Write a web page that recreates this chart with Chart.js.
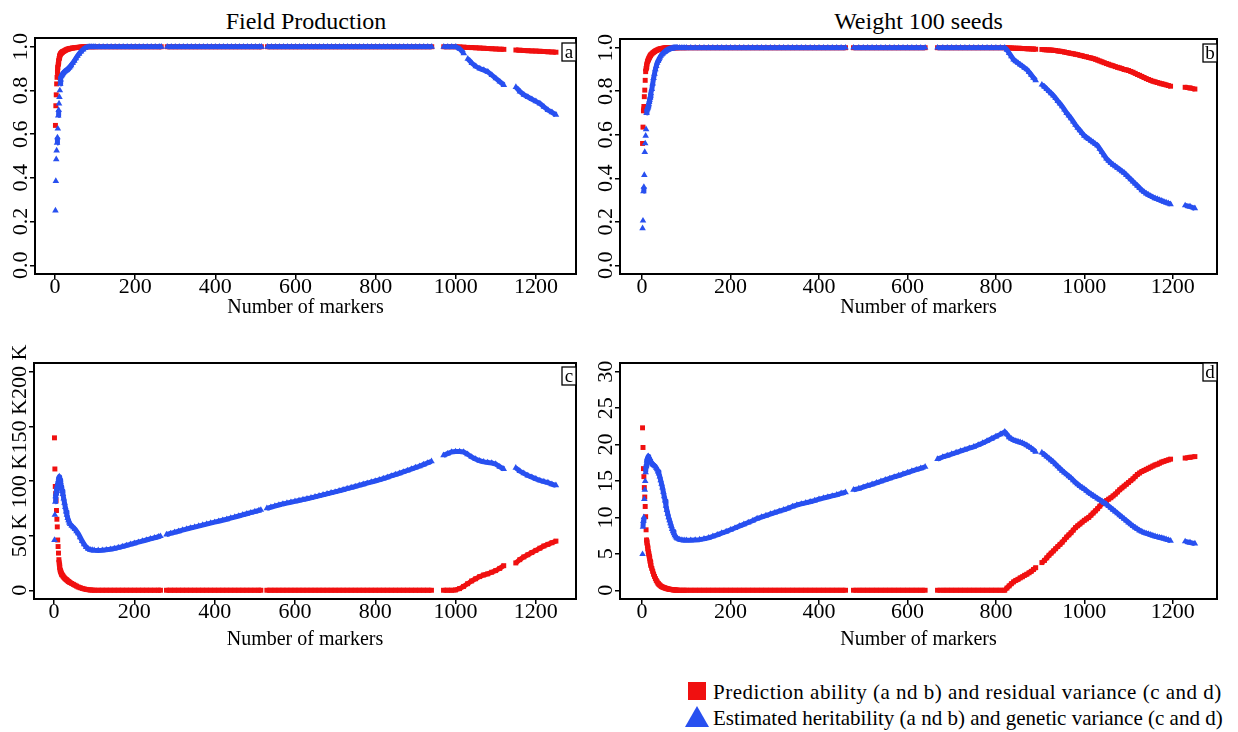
<!DOCTYPE html>
<html>
<head>
<meta charset="utf-8">
<script src="https://cdn.jsdelivr.net/npm/chart.js@4.4.1/dist/chart.umd.min.js"></script>
<style>
  html, body { margin:0; padding:0; background:#fff; }
  #wrap { position:relative; width:1238px; height:732px; overflow:hidden; background:#fff;
          font-family:"Liberation Serif","Times New Roman",serif; color:#000; }
  canvas { position:absolute; }
  .ttl { position:absolute; font-size:24px; line-height:28px; text-align:center; }
  .leg { position:absolute; font-size:21px; line-height:26px; white-space:nowrap; }
</style>
</head>
<body>
<div id="wrap">
  <div class="ttl" style="left:0;top:7px;width:612px;">Field Production</div>
  <div class="ttl" style="left:620px;top:7px;width:597px;">Weight 100 seeds</div>
  <canvas id="pa" width="580" height="330" style="left:0;top:0;"></canvas>
  <canvas id="pb" width="658" height="330" style="left:580px;top:0;"></canvas>
  <canvas id="pc" width="580" height="330" style="left:0;top:330px;"></canvas>
  <canvas id="pd" width="658" height="330" style="left:580px;top:330px;"></canvas>
  <div style="position:absolute;left:688px;top:682px;width:18px;height:18px;background:#f01010;"></div>
  <div class="leg" style="left:713px;top:679px;letter-spacing:0.5px;">Prediction ability (a nd b) and residual variance (c and d)</div>
  <svg style="position:absolute;left:684px;top:705px;" width="26" height="23"><polygon points="1,22 25,22 13,1" fill="#2850f0"/></svg>
  <div class="leg" style="left:713px;top:705px;">Estimated heritability (a nd b) and genetic variance (c and d)</div>
</div>
<script>
// ---------------- DATA ----------------
// Field Production: number of markers
const xsFP = [
  1,2,3,4,5,6,7,8,9,10,11,12,13,14,15,16,17,18,19,20,
  22,24,26,28,30,32,34,36,38,40,
  44,48,52,56,60,
  65,70,75,80,85,90,95,100,
  110,120,130,140,150,160,170,180,190,200,210,220,230,240,250,260,
  265,
  280,290,300,310,320,330,340,350,360,370,380,390,400,410,420,430,440,450,460,470,480,490,500,510,
  515,
  530,540,550,560,570,580,590,600,610,620,630,640,650,660,670,680,690,700,710,720,730,740,750,760,770,780,790,800,810,820,830,840,850,860,870,880,890,900,910,920,930,940,
  970,980,990,1000,1010,1020,1030,1040,1050,1060,1070,1080,1090,1100,1110,1120,
  1150,1160,1170,1180,1190,1200,1210,1220,1230,1240,1250
];
// (a) prediction ability, Field Production
const predFP = [
  0.64,0.73,0.78,0.83,0.86,0.885,0.905,0.92,0.935,0.945,0.955,0.96,0.965,0.968,0.97,0.972,0.974,0.975,0.977,0.978,
  0.98,0.982,0.984,0.986,0.988,0.989,0.99,0.991,0.992,0.993,
  0.994,0.995,0.996,0.997,0.998,
  0.999,1,1,1,1,1,1,1,
  1,1,1,1,1,1,1,1,1,1,1,1,1,1,1,1,
  1,
  1,1,1,1,1,1,1,1,1,1,1,1,1,1,1,1,1,1,1,1,1,1,1,1,
  1,
  1,1,1,1,1,1,1,1,1,1,1,1,1,1,1,1,1,1,1,1,1,1,1,1,1,1,1,1,1,1,1,1,1,1,1,1,1,1,1,1,1,1,
  1,1,1,1,0.999,0.998,0.997,0.996,0.995,0.994,0.993,0.992,0.991,0.99,0.989,0.988,
  0.985,0.984,0.983,0.982,0.981,0.98,0.979,0.978,0.977,0.976,0.975
];
// (a) estimated heritability, Field Production
const herFP = [
  0.25,0.385,0.485,0.525,0.56,0.585,0.625,0.685,0.71,0.74,0.77,0.80,0.83,0.85,0.865,0.868,0.871,0.874,0.877,0.88,
  0.883,0.886,0.889,0.892,0.895,0.898,0.902,0.906,0.91,0.915,
  0.925,0.935,0.947,0.958,0.968,
  0.978,0.987,0.994,0.998,1,1,1,1,
  1,1,1,1,1,1,1,1,1,1,1,1,1,1,1,1,
  1,
  1,1,1,1,1,1,1,1,1,1,1,1,1,1,1,1,1,1,1,1,1,1,1,1,
  1,
  1,1,1,1,1,1,1,1,1,1,1,1,1,1,1,1,1,1,1,1,1,1,1,1,1,1,1,1,1,1,1,1,1,1,1,1,1,1,1,1,1,1,
  1,1,1,1,0.99,0.97,0.945,0.925,0.91,0.90,0.893,0.885,0.87,0.855,0.84,0.825,
  0.815,0.795,0.78,0.77,0.76,0.75,0.74,0.725,0.71,0.70,0.688
];
// (c) residual variance, Field Production (thousands)
const residFP = [
  139.5,111,95,88.5,82,73,65,58,46,40,34,28,24,21,18.5,17.5,16.5,15.5,14.5,14,
  13,12,11.2,10.5,9.8,9.2,8.6,8,7.5,7,
  6.2,5.4,4.6,3.8,3.0,
  2.3,1.7,1.2,0.8,0.5,0.3,0.15,0.05,
  0,0,0,0,0,0,0,0,0,0,0,0,0,0,0,0,
  0,
  0,0,0,0,0,0,0,0,0,0,0,0,0,0,0,0,0,0,0,0,0,0,0,0,
  0,
  0,0,0,0,0,0,0,0,0,0,0,0,0,0,0,0,0,0,0,0,0,0,0,0,0,0,0,0,0,0,0,0,0,0,0,0,0,0,0,0,0,0,
  0,0,0,0.3,1.5,3.5,6,8.5,10.5,12.5,14,15,16.5,18,20,22.5,
  25,28,30.5,32.5,34.5,36.5,38.5,40.5,42,43.5,45
];
// (c) genetic variance, Field Production (thousands)
const genFP = [
  46,69,81,86,88.5,91,93,95,97,99,101,103,104,103,101,99,97,95,93,91,
  88,84,80,76,72,69,66,64,62,60.5,
  59,57.5,56,54,52,
  48.5,45,42,39.5,38,37,36.7,36.6,
  36.5,36.6,37,37.5,38.2,39,40,41,42,43,44,45,46,47,48,49,
  49.5,
  51,52,53,54,55,56,57,57.8,58.7,59.6,60.5,61.4,62.3,63.2,64.1,65,66,67,68,69,70,71,72,73,
  73.5,
  75,76,77,78,79,79.8,80.6,81.4,82.2,83,83.8,84.6,85.5,86.4,87.3,88.2,89.1,90,91,92,93,94,95,96,97,98,99,100,101,102.2,103.4,104.6,105.8,107,108.3,109.6,110.9,112.2,113.5,115,116.5,118,
  123.5,125,126.5,127,127,126.5,124.5,122,120,118.5,117.5,117,116.5,115.5,113,111,
  112,109,107,105,103.5,102,100.5,99.5,98.5,97,96
];

// Weight 100 seeds: number of markers
const xsW = [
  1,2,3,4,5,6,7,8,9,10,11,12,13,14,15,16,17,18,19,20,
  22,24,26,28,30,32,34,36,38,40,42,44,46,48,50,52,54,56,58,60,62,64,66,68,70,72,74,76,78,80,
  85,90,95,100,
  110,120,130,140,150,160,170,180,190,200,210,220,230,240,250,260,270,280,290,300,310,320,330,340,350,360,370,380,390,400,410,420,430,440,450,460,
  478,
  490,500,510,520,530,540,550,560,570,580,590,600,610,620,630,640,
  668,
  680,690,700,710,720,730,740,750,760,770,780,790,800,810,
  820,825,830,835,840,845,850,855,860,865,870,875,880,885,890,
  904,
  910,915,920,925,930,935,940,945,950,955,960,965,970,975,980,985,990,995,1000,1005,1010,1015,1020,1025,1030,1035,1040,1045,1050,1055,1060,1065,1070,1075,1080,1085,1090,1095,1100,1105,1110,1115,1120,1125,1130,1135,1140,1145,1150,1155,1160,1165,1170,1175,1180,1185,1190,1195,
  1228,1239,1250
];
// (b) prediction ability, Weight 100 seeds
const predW = [
  0.56,0.635,0.71,0.73,0.775,0.805,0.85,0.89,0.905,0.915,0.925,0.935,0.94,0.945,0.95,0.954,0.958,0.962,0.965,0.968,
  0.972,0.976,0.979,0.982,0.985,0.987,0.989,0.991,0.993,0.994,0.995,0.996,0.997,0.998,0.998,0.999,0.999,1,1,1,1,1,1,1,1,1,1,1,1,1,
  1,1,1,1,
  1,1,1,1,1,1,1,1,1,1,1,1,1,1,1,1,1,1,1,1,1,1,1,1,1,1,1,1,1,1,1,1,1,1,1,1,
  1,
  1,1,1,1,1,1,1,1,1,1,1,1,1,1,1,1,
  1,
  1,1,1,1,1,1,1,1,1,1,1,1,1,1,
  1,1,0.999,0.999,0.998,0.998,0.997,0.997,0.996,0.996,0.995,0.995,0.994,0.994,0.993,
  0.992,
  0.991,0.99,0.99,0.989,0.988,0.987,0.985,0.984,0.982,0.98,
  0.978,0.976,0.974,0.972,0.97,0.968,0.965,0.963,0.96,0.958,
  0.955,0.953,0.95,0.947,0.943,0.939,0.935,0.931,0.927,0.924,
  0.92,0.917,0.913,0.91,0.907,0.904,0.90,0.898,0.895,0.891,
  0.887,0.882,0.877,0.873,0.868,0.863,0.858,0.854,0.85,0.846,
  0.843,0.84,0.837,0.834,0.832,0.829,0.826,0.823,
  0.818,0.815,0.81
];
// (b) estimated heritability, Weight 100 seeds
const herW = [
  0.17,0.205,0.34,0.36,0.415,0.52,0.56,0.595,0.625,0.70,0.715,0.72,0.725,0.73,0.74,0.75,0.76,0.77,0.78,0.79,
  0.81,0.835,0.86,0.88,0.90,0.915,0.93,0.94,0.948,0.955,0.962,0.968,0.972,0.976,0.98,0.983,0.986,0.988,0.99,0.992,0.994,0.995,0.996,0.997,0.998,0.999,0.999,1,1,1,
  1,1,1,1,
  1,1,1,1,1,1,1,1,1,1,1,1,1,1,1,1,1,1,1,1,1,1,1,1,1,1,1,1,1,1,1,1,1,1,1,1,
  1,
  1,1,1,1,1,1,1,1,1,1,1,1,1,1,1,1,
  1,
  1,1,1,1,1,1,1,1,1,1,1,1,1,1,
  1,0.99,0.975,0.96,0.945,0.937,0.93,0.922,0.915,0.907,0.90,0.888,0.875,0.862,0.85,
  0.83,
  0.82,0.81,0.80,0.79,0.78,0.768,0.755,0.743,0.73,0.715,
  0.70,0.688,0.675,0.66,0.645,0.632,0.62,0.607,0.595,0.587,
  0.58,0.572,0.565,0.557,0.55,0.535,0.52,0.505,0.49,0.48,
  0.47,0.462,0.455,0.447,0.44,0.432,0.425,0.415,0.405,0.395,
  0.385,0.375,0.365,0.355,0.345,0.337,0.33,0.324,0.318,0.313,
  0.308,0.304,0.30,0.296,0.292,0.288,0.285,0.28,
  0.275,0.27,0.262
];
// (d) residual variance, Weight 100 seeds
const residW = [
  22.3,19.6,16.7,15.6,14.1,12.8,11.5,10.1,8.3,6.9,6.5,6.1,5.7,5.3,5.0,4.7,4.4,4.0,3.7,3.4,
  3.0,2.6,2.2,1.9,1.6,1.35,1.15,0.95,0.8,0.7,0.6,0.5,0.45,0.4,0.35,0.3,0.26,0.22,0.19,0.16,0.14,0.12,0.1,0.08,0.06,0.05,0.04,0.03,0.02,0.01,
  0,0,0,0,
  0,0,0,0,0,0,0,0,0,0,0,0,0,0,0,0,0,0,0,0,0,0,0,0,0,0,0,0,0,0,0,0,0,0,0,0,
  0,
  0,0,0,0,0,0,0,0,0,0,0,0,0,0,0,0,
  0,
  0,0,0,0,0,0,0,0,0,0,0,0,0,0,
  0,0.3,0.6,0.9,1.15,1.35,1.5,1.7,1.85,2.05,2.2,2.4,2.6,2.85,3.1,
  3.8,
  4.1,4.45,4.8,5.1,5.4,5.7,6.0,6.3,6.6,6.95,
  7.3,7.6,7.9,8.25,8.6,8.85,9.1,9.35,9.6,9.8,
  10.0,10.3,10.6,10.9,11.2,11.55,11.9,12.1,12.3,12.5,
  12.7,12.95,13.2,13.5,13.8,14.05,14.3,14.55,14.8,15.05,
  15.3,15.6,15.9,16.1,16.3,16.45,16.6,16.75,16.9,17.05,
  17.2,17.3,17.45,17.6,17.7,17.8,17.9,18.0,
  18.15,18.25,18.35
];
// (d) genetic variance, Weight 100 seeds
const genW = [
  4.95,8.7,9.5,10.0,12.5,13.8,15.0,16.2,17.0,17.4,17.8,18.1,18.3,18.4,18.3,18.1,17.9,17.8,17.7,17.6,
  17.5,17.3,17.2,17.1,17.0,16.8,16.6,16.3,16.0,15.6,15.1,14.6,14.1,13.5,12.9,12.3,11.6,11.0,10.5,10.0,9.6,9.2,8.8,8.4,8.1,7.8,7.55,7.35,7.2,7.1,
  6.95,6.9,6.85,6.85,
  6.85,6.9,6.95,7.05,7.2,7.4,7.6,7.85,8.05,8.3,8.55,8.8,9.05,9.3,9.55,9.85,10.05,10.25,10.45,10.65,10.85,11.05,11.25,11.5,11.7,11.85,12.0,12.15,12.3,12.5,12.65,12.8,12.95,13.1,13.3,13.45,
  13.8,
  13.95,14.15,14.35,14.55,14.75,14.95,15.15,15.35,15.55,15.75,15.95,16.15,16.35,16.55,16.75,16.95,
  18.0,
  18.3,18.5,18.7,18.9,19.1,19.3,19.5,19.7,19.95,20.2,20.5,20.8,21.1,21.4,
  21.75,21.4,21.0,20.8,20.6,20.5,20.4,20.3,20.2,20.05,19.9,19.7,19.5,19.25,19.0,
  18.9,
  18.6,18.35,18.1,17.85,17.6,17.3,17.0,16.7,16.4,16.15,
  15.9,15.65,15.4,15.1,14.8,14.55,14.3,14.1,13.9,13.65,
  13.4,13.2,13.0,12.8,12.6,12.4,12.2,12.0,11.8,11.55,
  11.3,11.05,10.8,10.55,10.3,10.05,9.8,9.55,9.3,9.05,
  8.8,8.6,8.4,8.2,8.05,7.9,7.8,7.7,7.6,7.5,
  7.4,7.32,7.25,7.18,7.1,7.0,6.9,6.8,
  6.7,6.55,6.4
];

// Axis ticks and labels
const xTicks = [0,200,400,600,800,1000,1200];
const yTicksAB = [0,0.2,0.4,0.6,0.8,1.0];
const yLabelsAB = ['0.0','0.2','0.4','0.6','0.8','1.0'];
const yTicksC = [0,50,100,150,200];
const yLabelsC = ['0','50 K','100 K','150 K','200 K'];
const yTicksD = [0,5,10,15,20,25,30];
const yLabelsD = ['0','5','10','15','20','25','30'];
const xTitle = 'Number of markers';

// ---------------- DRAWING ----------------
const RED = '#f01010', BLUE = '#2850f0';
const FAM = '"Liberation Serif","Times New Roman",serif';

[['predFP',predFP],['herFP',herFP],['residFP',residFP],['genFP',genFP]].forEach(([n,a])=>{
  if (a.length !== xsFP.length) throw new Error(n+' length '+a.length+' vs '+xsFP.length);
});
[['predW',predW],['herW',herW],['residW',residW],['genW',genW]].forEach(([n,a])=>{
  if (a.length !== xsW.length) throw new Error(n+' length '+a.length+' vs '+xsW.length);
});

function pts(xs, ys){ return xs.map((x,i)=>({x:x, y:ys[i]})); }

// band segments: join neighbouring markers that touch, leave isolated markers and gaps open
function bandColor(color){
  return c => {
    const dx = c.p1.x - c.p0.x, dy = c.p1.y - c.p0.y;
    return (dx > 5.5 || Math.hypot(dx, dy) > 6.3) ? 'rgba(0,0,0,0)' : color;
  };
}

function series(xs, ys, color, style, r){
  return {
    data: pts(xs, ys), showLine:true, borderColor:color, borderWidth:5, tension:0,
    borderJoinStyle:'round', borderCapStyle:'butt',
    segment:{ borderColor: bandColor(color) },
    pointStyle:style, pointRadius:r, pointBackgroundColor:color, pointBorderWidth:0
  };
}

function makePanel(id, cfg){
  const deco = {
    id: 'deco_'+id,
    afterDraw(chart){
      const ctx = chart.ctx, a = chart.chartArea;
      ctx.save();
      ctx.strokeStyle = '#000'; ctx.lineWidth = 2;
      ctx.strokeRect(a.left, a.top, a.right - a.left, a.bottom - a.top);
      // rotated y tick labels
      const ys = chart.scales.y;
      ctx.fillStyle = '#000';
      ctx.font = '22px ' + FAM;
      ctx.textAlign = 'center'; ctx.textBaseline = 'alphabetic';
      cfg.yTicks.forEach((v,i)=>{
        const py = ys.getPixelForValue(v);
        ctx.save(); ctx.translate(a.left - 8, py); ctx.rotate(-Math.PI/2);
        ctx.fillText(cfg.yLabels[i], 0, 0); ctx.restore();
      });
      // panel letter
      const bw = 14, bh = 18, bx = a.right - bw, by = a.top + cfg.letterOff;
      ctx.fillStyle = '#fff'; ctx.fillRect(bx, by, bw, bh);
      ctx.lineWidth = 1.3; ctx.strokeStyle = '#000'; ctx.strokeRect(bx, by, bw, bh);
      ctx.fillStyle = '#000'; ctx.font = '19px ' + FAM;
      ctx.textAlign = 'center'; ctx.textBaseline = 'middle';
      ctx.fillText(cfg.letter, bx + bw/2, by + bh/2 + 1);
      ctx.restore();
    }
  };
  const gridOpt = { display:true, drawOnChartArea:false, drawTicks:true, tickLength:5, color:'#000', lineWidth:1.5 };
  new Chart(document.getElementById(id), {
    type: 'scatter',
    data: { datasets: [
      series(cfg.xs, cfg.blue, BLUE, 'triangle', 3.8),
      series(cfg.xs, cfg.red, RED, 'rect', 3.5)
    ]},
    options: {
      responsive:false, animation:false, events:[],
      layout:{ padding:{ top:cfg.padTop, right:cfg.padRight, left:0, bottom:0 } },
      plugins:{ legend:{display:false}, tooltip:{enabled:false} },
      scales:{
        x:{ type:'linear', min:-50, max:1300,
            afterBuildTicks:s=>{ s.ticks = xTicks.map(v=>({value:v})); },
            afterFit:s=>{ s.height = cfg.xAxisH; },
            ticks:{ autoSkip:false, maxRotation:0, minRotation:0, color:'#000', padding:-3,
                    font:{ family:FAM, size:22, lineHeight:1 }, callback:v=>String(v) },
            grid:gridOpt, border:{display:false},
            title:{ display:true, text:xTitle, color:'#000', font:{family:FAM, size:20, lineHeight:1.2},
                    padding:{top:0, bottom:cfg.titlePadBottom} } },
        y:{ type:'linear', min:cfg.yMin, max:cfg.yMax,
            afterBuildTicks:s=>{ s.ticks = cfg.yTicks.map(v=>({value:v})); },
            afterFit:s=>{ s.width = cfg.yAxisW; },
            ticks:{ display:false },
            grid:gridOpt, border:{display:false} }
      }
    },
    plugins:[deco]
  });
}

makePanel('pa', { xs:xsFP, red:predFP, blue:herFP, yMin:-0.04, yMax:1.04, yTicks:yTicksAB, yLabels:yLabelsAB,
  letter:'a', letterOff:5, yAxisW:35, xAxisH:56, padTop:38, padRight:3, titlePadBottom:10 });
makePanel('pb', { xs:xsW, red:predW, blue:herW, yMin:-0.04, yMax:1.04, yTicks:yTicksAB, yLabels:yLabelsAB,
  letter:'b', letterOff:5, yAxisW:40, xAxisH:56, padTop:39, padRight:21, titlePadBottom:10 });
makePanel('pc', { xs:xsFP, red:residFP, blue:genFP, yMin:-8, yMax:208, yTicks:yTicksC, yLabels:yLabelsC,
  letter:'c', letterOff:4, yAxisW:34, xAxisH:61, padTop:33, padRight:3, titlePadBottom:8 });
makePanel('pd', { xs:xsW, red:residW, blue:genW, yMin:-1.2, yMax:31.2, yTicks:yTicksD, yLabels:yLabelsD,
  letter:'d', letterOff:0, yAxisW:40, xAxisH:61, padTop:33, padRight:21, titlePadBottom:8 });
</script>
</body>
</html>
